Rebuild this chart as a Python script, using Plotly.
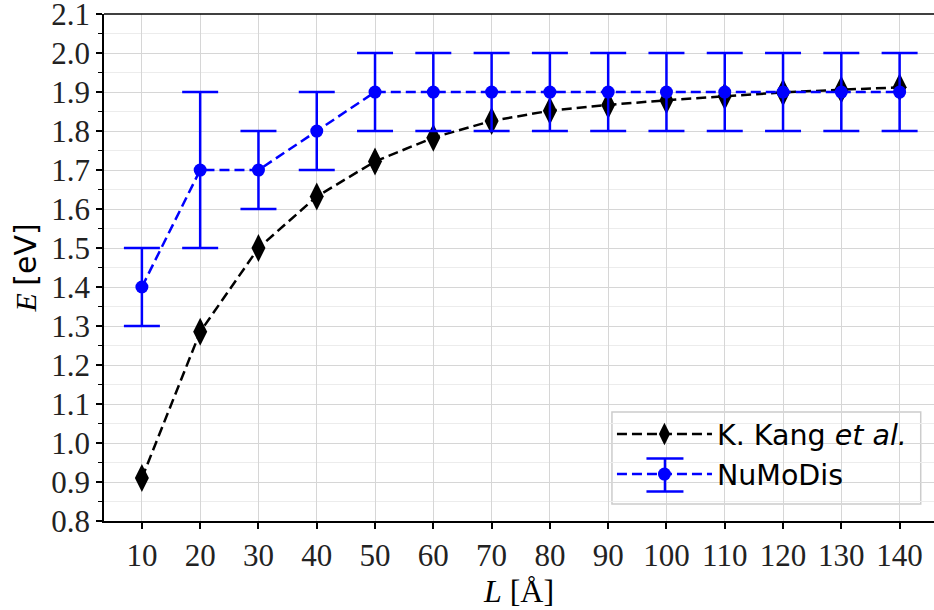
import plotly.graph_objects as go

# Length of the dislocation segment (Å)
lengths = [10, 20, 30, 40, 50, 60, 70, 80, 90, 100, 110, 120, 130, 140]

# Reference energies, K. Kang et al. (eV)
kang_energy = [0.91, 1.285, 1.50, 1.632, 1.722, 1.783, 1.826, 1.852, 1.867,
               1.879, 1.889, 1.899, 1.906, 1.912]

# NuMoDis energies and their uncertainties (eV)
numodis_energy = [1.4, 1.7, 1.7, 1.8, 1.9, 1.9, 1.9, 1.9, 1.9, 1.9, 1.9, 1.9, 1.9, 1.9]
numodis_err = [0.1, 0.2, 0.1, 0.1, 0.1, 0.1, 0.1, 0.1, 0.1, 0.1, 0.1, 0.1, 0.1, 0.1]

y_ticks = [round(0.8 + 0.1 * i, 1) for i in range(14)]
y_minor = [round(0.85 + 0.1 * i, 2) for i in range(13)]

serif = "Liberation Serif"
sans = "DejaVu Sans"
blue = "#0000ff"

W, H = 934, 610
ML, MR, MT, MB = 104, 0, 14, 89
PW, PH = W - ML - MR, H - MT - MB

# Legend frame in paper coordinates
LEG_X0, LEG_X1 = 0.612, 0.984
LEG_Y0, LEG_Y1 = 0.0335, 0.215

fig = go.Figure()

fig.add_trace(go.Scatter(
    x=lengths, y=kang_energy, mode="lines+markers",
    name="K. Kang <i>et al.</i>",
    line=dict(color="black", width=2.5, dash="10px,5px"),
    marker=dict(symbol="diamond-tall", size=20, color="black"),
))

fig.add_trace(go.Scatter(
    x=lengths, y=numodis_energy, mode="lines+markers",
    name="NuMoDis",
    line=dict(color=blue, width=2.5, dash="10px,5px"),
    marker=dict(symbol="circle", size=13, color=blue),
    error_y=dict(type="data", array=numodis_err, visible=True,
                 color=blue, thickness=2.5, width=18),
))

fig.update_layout(
    width=W, height=H,
    margin=dict(l=ML, r=MR, t=MT, b=MB),
    paper_bgcolor="white", plot_bgcolor="white",
    showlegend=True,
    legend=dict(
        x=LEG_X0, y=LEG_Y1 + 3 / PH, xanchor="left", yanchor="top",
        bgcolor="rgba(0,0,0,0)", borderwidth=0,
        font=dict(family=sans, size=28.5, color="black"),
        itemwidth=95, tracegroupgap=0,
    ),
    xaxis=dict(
        range=[3.5, 145.9], automargin=False,
        tickmode="array", tickvals=lengths, ticktext=[str(v) for v in lengths],
        ticks="outside", ticklen=6, tickwidth=1.5, tickcolor="black",
        tickfont=dict(family=serif, size=31, color="#222222"),
        showgrid=True, gridcolor="#d6d6d6", gridwidth=1,
        showline=True, linecolor="black", linewidth=1.5, mirror=False,
        zeroline=False, ticklabeloverflow="allow",
        title=dict(text="<i>L</i> [Å]", font=dict(family=serif, size=32, color="black"), standoff=8),
    ),
    yaxis=dict(
        range=[0.8, 2.1001], automargin=False,
        tickmode="array", tickvals=y_ticks, ticktext=[f"{v:.1f}" for v in y_ticks],
        ticks="outside", ticklen=6, tickwidth=1.5, tickcolor="black",
        tickfont=dict(family=serif, size=31, color="#222222"),
        showgrid=True, gridcolor="#d6d6d6", gridwidth=1,
        showline=True, linecolor="black", linewidth=1.5,
        zeroline=False, ticklabeloverflow="allow",
        minor=dict(tickmode="array", tickvals=y_minor, ticks="outside", ticklen=4,
                   tickwidth=1.2, tickcolor="black", showgrid=True,
                   gridcolor="#ececec", gridwidth=1),
        title=dict(text="<i>E</i> <span style='font-family:DejaVu Sans'>[eV]</span>",
                   font=dict(family=serif, size=30, color="black"), standoff=6),
    ),
)

# Top frame line of the plotting area
fig.add_shape(type="line", xref="paper", yref="paper", x0=0, x1=1, y0=1, y1=1,
              line=dict(color="black", width=1.5))

# Legend background and frame
fig.add_shape(type="rect", xref="paper", yref="paper", layer="between",
              x0=LEG_X0, x1=LEG_X1, y0=LEG_Y0, y1=LEG_Y1,
              fillcolor="rgba(255,255,255,0.8)", line=dict(color="#cccccc", width=1.5))

# Error-bar glyph for the NuMoDis legend entry
gx = LEG_X0 + 53 / PW
gy = (MT + PH - 475) / PH
cap = 18.5 / PW
bar = 16.5 / PH
for x0, x1, y0, y1 in [(gx, gx, gy - bar, gy + bar),
                       (gx - cap, gx + cap, gy + bar, gy + bar),
                       (gx - cap, gx + cap, gy - bar, gy - bar)]:
    fig.add_shape(type="line", xref="paper", yref="paper", layer="above",
                  x0=x0, x1=x1, y0=y0, y1=y1, line=dict(color=blue, width=2.5))

fig.write_html("out.html")
